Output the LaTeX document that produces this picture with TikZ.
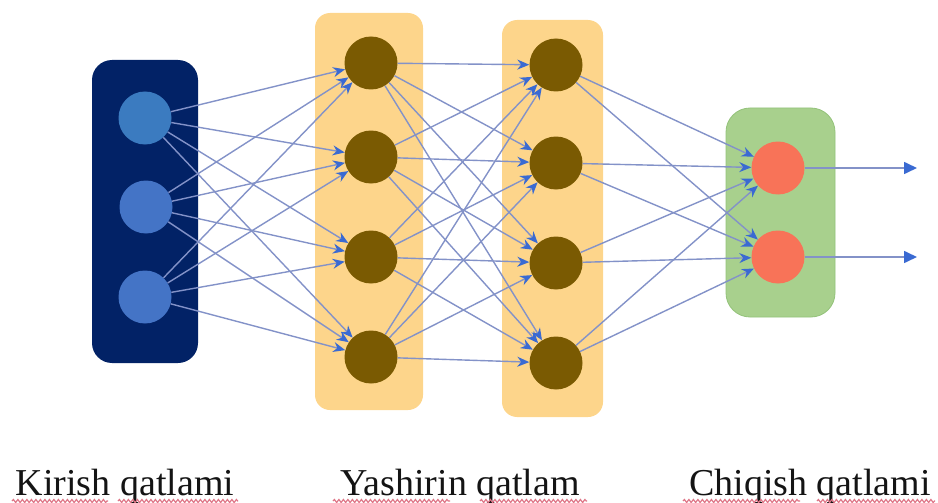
\documentclass[tikz,border=0pt]{standalone}
\usepackage{fontspec}
\setmainfont{Liberation Serif}
\usetikzlibrary{arrows.meta,decorations.pathmorphing}
\definecolor{navybox}{HTML}{022266}
\definecolor{inblue}{HTML}{4474C6}
\definecolor{inblueA}{HTML}{3B7BC0}
\definecolor{hidbox}{HTML}{FDD58B}
\definecolor{hidnode}{HTML}{7A5A02}
\definecolor{outbox}{HTML}{A8D08D}
\definecolor{outboxline}{HTML}{93C27A}
\definecolor{outnode}{HTML}{F87358}
\definecolor{edgec}{HTML}{8392C8}
\definecolor{arrowc}{HTML}{3A6AD2}
\definecolor{txtc}{HTML}{141414}
\definecolor{squig}{HTML}{DE7486}
\begin{document}
\begin{tikzpicture}[x=1pt,y=-1pt,
  layerbox/.style={rectangle, inner sep=0pt},
  neuron/.style={circle, inner sep=0pt, minimum size=53pt},
  conn/.style={draw=edgec, line width=1.4pt, -{Stealth[length=12pt,width=10pt,color=arrowc]}},
  outconn/.style={draw=edgec, line width=1.6pt, -{Triangle[length=13pt,width=12pt,color=arrowc]}},
  lab/.style={anchor=base, text=txtc, font=\fontsize{38}{40}\selectfont},
  spell/.style={draw=squig, line width=1.2pt, decorate, decoration={snake, amplitude=1.5pt, segment length=4.5pt}}
]
\useasboundingbox (0,0) rectangle (938,503);
% layer boxes
\node[layerbox, fill=navybox, rounded corners=20pt, minimum width=106pt, minimum height=303pt] (inbox) at (145,211.5) {};
\node[layerbox, fill=hidbox, rounded corners=15pt, minimum width=108pt, minimum height=397pt] (hbox1) at (369,211.5) {};
\node[layerbox, fill=hidbox, rounded corners=15pt, minimum width=101pt, minimum height=397pt] (hbox2) at (552.5,218.5) {};
\node[layerbox, fill=outbox, draw=outboxline, line width=0.8pt, rounded corners=24pt, minimum width=109pt, minimum height=209pt] (obox) at (780.5,212.5) {};
% neurons
\node[neuron, fill=inblueA] (i1) at (145,118) {};
\node[neuron, fill=inblue] (i2) at (146,207) {};
\node[neuron, fill=inblue] (i3) at (145,297) {};
\foreach \k/\y in {1/63,2/157,3/257,4/357} {
  \node[neuron, fill=hidnode] (h\k) at (371,\y) {};
}
\foreach \k/\y in {1/65,2/163,3/263,4/363} {
  \node[neuron, fill=hidnode] (g\k) at (556,\y) {};
}
\node[neuron, fill=outnode] (o1) at (778,168) {};
\node[neuron, fill=outnode] (o2) at (778,257) {};
\coordinate (e1) at (917,168);
\coordinate (e2) at (917,257);
% connections
\foreach \a in {1,2,3} \foreach \b in {1,2,3,4} { \draw[conn] (i\a) -- (h\b); }
\foreach \a in {1,2,3,4} \foreach \b in {1,2,3,4} { \draw[conn] (h\a) -- (g\b); }
\foreach \a in {1,2,3,4} \foreach \b in {1,2} { \draw[conn] (g\a) -- (o\b); }
\draw[outconn] (o1) -- (e1);
\draw[outconn] (o2) -- (e2);
% labels
\node[lab] (l1) at (125,495) {Kirish qatlami};
\node[lab] (l2) at (460,495) {Yashirin qatlam};
\node[lab] (l3) at (810,495) {Chiqish qatlami};
% spell-check underlines
\draw[spell] (12,501) -- (108,501);
\draw[spell] (118,501) -- (238,501);
\draw[spell] (333,501) -- (450,501);
\draw[spell] (480,501) -- (587,501);
\draw[spell] (683,501) -- (800,501);
\draw[spell] (817,501) -- (935,501);
\end{tikzpicture}
\end{document}
